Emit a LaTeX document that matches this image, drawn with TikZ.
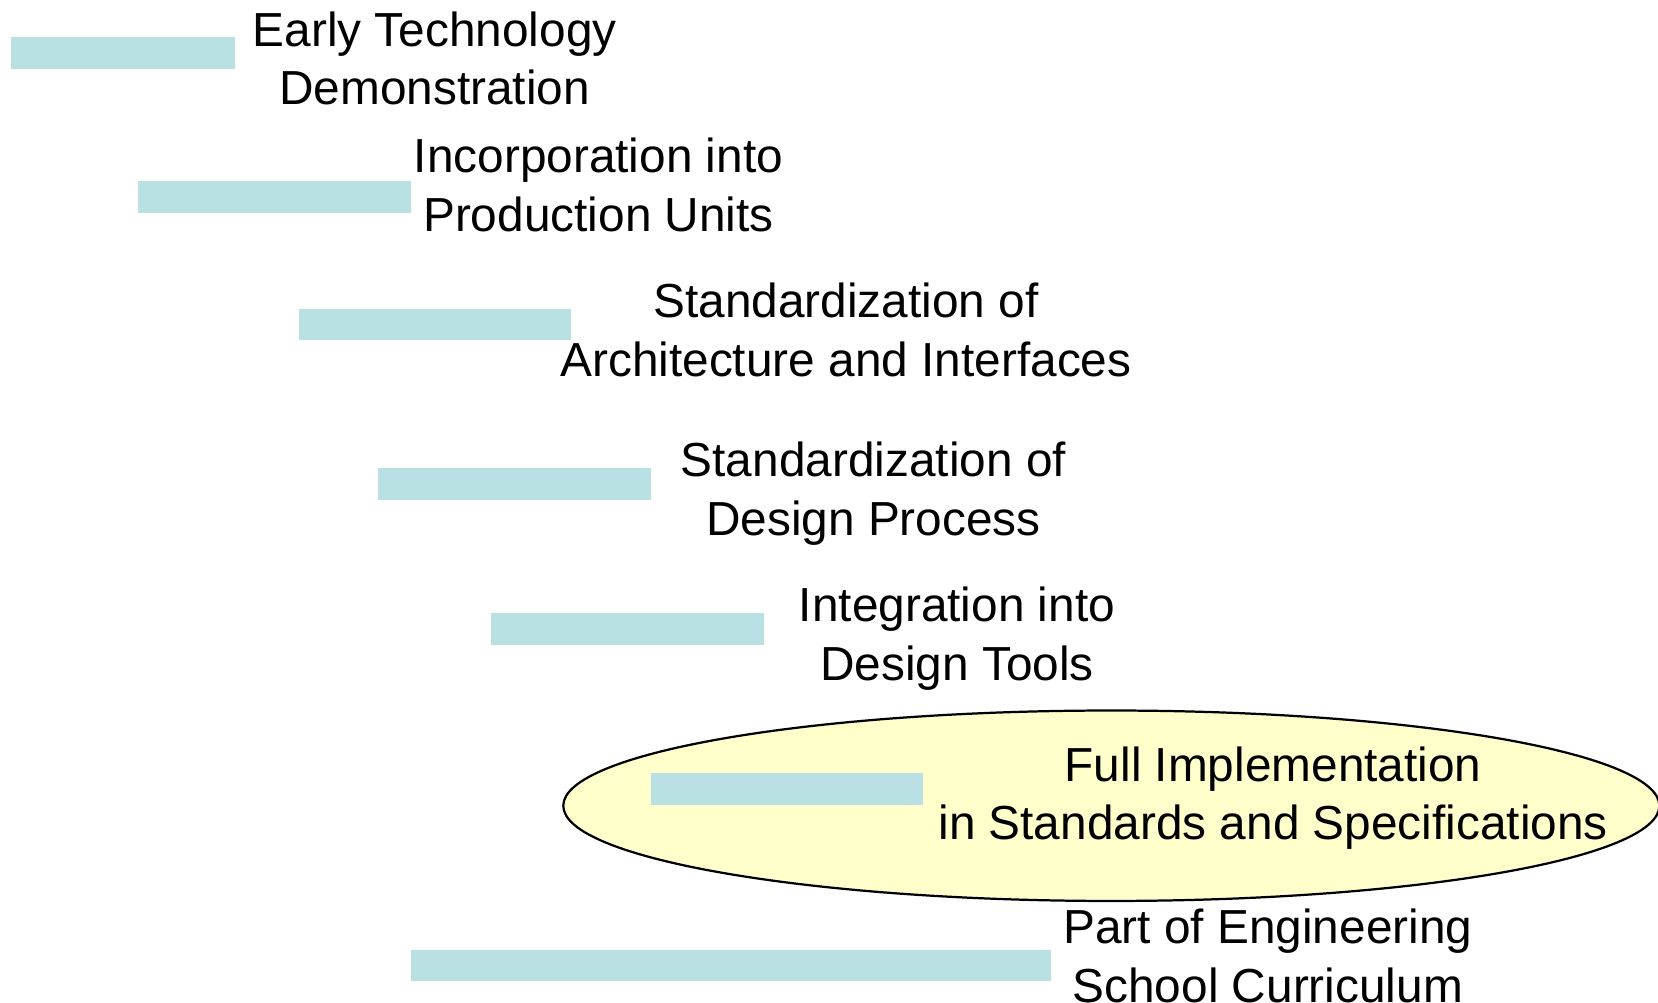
\documentclass[tikz,border=0pt]{standalone}
\usepackage{fontspec}
\setmainfont{Liberation Sans}
\usepackage{xcolor}
\usetikzlibrary{shapes.geometric, positioning}

\definecolor{barblue}{HTML}{B9E0E3}
\definecolor{hilite}{HTML}{FFFFCC}

\begin{document}
\begin{tikzpicture}[x=0.01cm, y=-0.01cm,
    bar/.style={rectangle, fill=barblue, inner sep=0, minimum height=0.3cm, minimum width=2.57cm},
    label/.style={align=center, inner sep=0, font=\fontsize{12.85}{15.7}\selectfont}]
    \useasboundingbox (0,0) rectangle (1568,948);

    % Highlight
    \node[draw, ellipse, fill=hilite, inner sep=0, minimum width=10.36cm, minimum height=1.8cm, line width=0.6pt] (Focus) at (1051,762) {};

    % Bars
    \node[bar, minimum width=2.12cm] (DemoBar) at (116,50) {};
    \node[bar, minimum width=2.58cm] (ProdBar) at (260,186) {};
    \node[bar] (ArchBar) at (411.5,307) {};
    \node[bar, minimum width=2.58cm] (ProcBar) at (487,458) {};
    \node[bar, minimum width=2.58cm] (ToolBar) at (593,595) {};
    \node[bar] (SpecBar) at (744.5,746) {};
    \node[bar, minimum width=6.05cm] (SchoolBar) at (691.5,913) {};

    % Labels
    \node[label] (Demo) at (411,55) {Early Technology\\Demonstration};
    \node[label] (Prod) at (566,175) {Incorporation into\\Production Units};
    \node[label] (Arch) at (800,312) {Standardization of\\Architecture and Interfaces};
    \node[label] (Proc) at (826,467) {Standardization of\\Design Process};
    \node[label] (Tool) at (905,604) {Integration into\\Design Tools};
    \node[label] (Spec) at (1204,755) {Full Implementation\\in Standards and Specifications};
    \node[label] (School) at (1199,904) {Part of Engineering\\School Curriculum};
\end{tikzpicture}
\end{document}
